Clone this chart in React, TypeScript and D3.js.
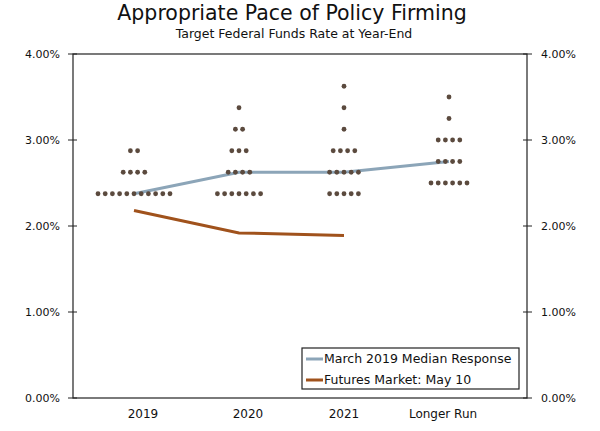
import React, { useEffect } from "react";
import * as d3 from "d3";

const categories = ["2019", "2020", "2021", "Longer Run"];

// participants' dots: [rate, count] per category
const dots2019 = [[2.375, 11], [2.625, 4], [2.875, 2]];
const dots2020 = [[2.375, 7], [2.625, 4], [2.875, 3], [3.125, 2], [3.375, 1]];
const dots2021 = [[2.375, 5], [2.625, 5], [2.875, 4], [3.125, 1], [3.375, 1], [3.625, 1]];
const dotsLonger = [[2.5, 6], [2.75, 4], [3.0, 4], [3.25, 1], [3.5, 1]];

const medianResponse = [2.375, 2.625, 2.625, 2.75];
const futuresMarket = [2.18, 1.92, 1.89];

const yTicks = [0, 1, 2, 3, 4];

const W = 600;
const H = 431;
const M = { top: 54, right: 73, bottom: 33, left: 73 };
const font = "'DejaVu Sans', Verdana, sans-serif";

export default function App() {
  useEffect(() => {
    document.body.style.margin = "0";
  }, []);

  const plotW = W - M.left - M.right;
  const plotH = H - M.top - M.bottom;

  const x = d3.scalePoint<string>().domain(categories).range([61, 376]);
  const y = d3.scaleLinear().domain([0, 4]).range([plotH, 0]);

  const allDots = [dots2019, dots2020, dots2021, dotsLonger];
  const dotGap = 7.2;
  // category labels sit a little off the dot columns in the original
  const labelShift = [9, 9, 0, -6];

  const line = d3
    .line<number>()
    .x((_, i) => x(categories[i])!)
    .y((d) => y(d));

  const blue = "#8ca5b8";
  const brown = "#a0521c";

  return (
    <svg width={W} height={H} style={{ display: "block" }} fontFamily={font}>
      <text x={292} y={20} textAnchor="middle" fontSize={20.5} fill="#111">
        Appropriate Pace of Policy Firming
      </text>
      <text x={294} y={38} textAnchor="middle" fontSize={12.5} fill="#111">
        Target Federal Funds Rate at Year-End
      </text>
      <g transform={`translate(${M.left},${M.top})`}>
        {/* frame */}
        <rect x={0} y={0} width={plotW} height={plotH} fill="none" stroke="#222" strokeWidth={1.2} />
        {yTicks.map((t) => (
          <g key={t}>
            <line x1={-5} x2={4} y1={y(t)} y2={y(t)} stroke="#222" />
            <line x1={plotW - 4} x2={plotW + 5} y1={y(t)} y2={y(t)} stroke="#222" />
            <text x={-13} y={y(t)} dy="0.35em" textAnchor="end" fontSize={11} fill="#111">
              {d3.format(".2f")(t)}%
            </text>
            <text x={plotW + 14} y={y(t)} dy="0.35em" textAnchor="start" fontSize={11} fill="#111">
              {d3.format(".2f")(t)}%
            </text>
          </g>
        ))}
        {categories.map((c, i) => (
          <text key={c} x={x(c)! + labelShift[i]} y={plotH + 20} textAnchor="middle" fontSize={12} fill="#111">
            {c}
          </text>
        ))}
        <path d={line(medianResponse)!} fill="none" stroke={blue} strokeWidth={3} />
        <path d={line(futuresMarket)!} fill="none" stroke={brown} strokeWidth={3} />
        {allDots.map((rows, ci) =>
          rows.map(([rate, n]) =>
            d3.range(n).map((k) => (
              <circle
                key={`${ci}-${rate}-${k}`}
                cx={x(categories[ci])! + (k - (n - 1) / 2) * dotGap}
                cy={y(rate)}
                r={2.4}
                fill="#5b4a3e"
              />
            ))
          )
        )}
        {/* legend */}
        <g transform={`translate(${229},${294})`}>
          <rect x={0} y={0} width={217} height={41} fill="#fff" stroke="#222" strokeWidth={1.2} />
          <line x1={4} x2={21} y1={11} y2={11} stroke={blue} strokeWidth={3} />
          <text x={22} y={11} dy="0.35em" fontSize={12.5} fill="#111">March 2019 Median Response</text>
          <line x1={4} x2={21} y1={32} y2={32} stroke={brown} strokeWidth={3} />
          <text x={22} y={32} dy="0.35em" fontSize={12.5} fill="#111">Futures Market: May 10</text>
        </g>
      </g>
    </svg>
  );
}
